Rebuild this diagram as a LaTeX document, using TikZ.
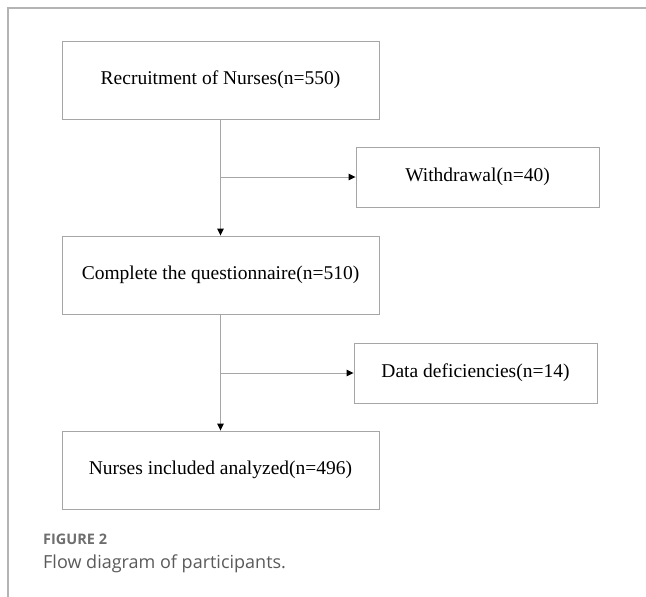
\documentclass[tikz,border=0pt]{standalone}
\usepackage{fontspec}
\setmainfont{Liberation Serif}
\newfontfamily\capfont{Open Sans}
\usetikzlibrary{arrows.meta}
\definecolor{boxline}{HTML}{A6A6A6}
\definecolor{frameline}{HTML}{B4B4B4}
\definecolor{capgrey}{HTML}{6E6E6E}
\definecolor{captext}{HTML}{5A5A5A}
\begin{document}
\begin{tikzpicture}[x=1pt,y=-1pt,
  flowbox/.style={draw=boxline,line width=0.9pt,minimum width=317pt,minimum height=78pt,
    inner sep=0pt,font=\fontsize{19.5}{22}\selectfont},
  sidebox/.style={draw=boxline,line width=0.9pt,minimum width=243pt,minimum height=60pt,
    inner sep=0pt,font=\fontsize{19.5}{22}\selectfont},
  link/.style={draw=boxline,line width=0.9pt},
  arrowlink/.style={link,-{Triangle[length=7pt,width=6.5pt,black]}},
  frame/.style={draw=frameline,line width=1.4pt}]
\useasboundingbox (0,0) rectangle (646,597);
% page frame
\coordinate (ftr) at (646,8);
\coordinate (ftl) at (8,8);
\coordinate (fbl) at (8,597);
\draw[frame] (ftr) -- (ftl) -- (fbl);
% boxes
\node[flowbox] (rec) at (220.5,80) {Recruitment of Nurses(n=550)};
\node[sidebox] (wd) at (477.5,177) {Withdrawal(n=40)};
\node[flowbox] (cq) at (220.5,275) {Complete the questionnaire(n=510)};
\node[sidebox] (dd) at (475.5,373) {Data deficiencies(n=14)};
\node[flowbox] (inc) at (220.5,470) {Nurses included analyzed(n=496)};
% connectors
\coordinate (j1) at (rec.south |- wd.west);
\coordinate (j2) at (cq.south |- dd.west);
\draw[arrowlink] (rec.south) -- (cq.north);
\draw[arrowlink] (j1) -- (wd.west);
\draw[arrowlink] (cq.south) -- (inc.north);
\draw[arrowlink] (j2) -- (dd.west);
% caption
\node[anchor=base west,inner sep=0pt,text=capgrey,font=\capfont\bfseries\fontsize{14.5}{16}\selectfont] (fig) at (43,544) {FIGURE 2};
\node[anchor=base west,inner sep=0pt,text=captext,font=\capfont\fontsize{18}{21}\selectfont] (cap) at (43,568) {Flow diagram of participants.};
\end{tikzpicture}
\end{document}
